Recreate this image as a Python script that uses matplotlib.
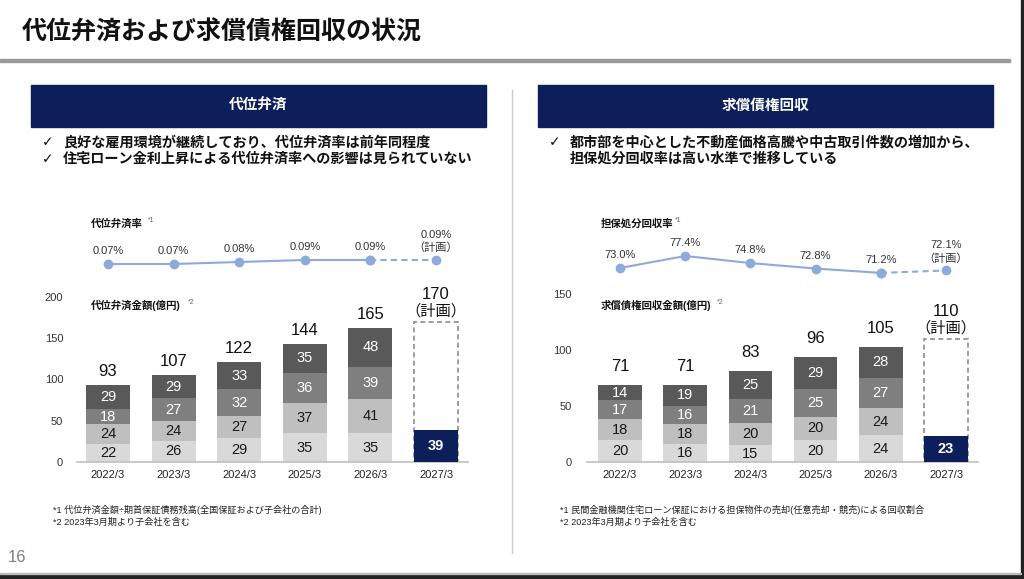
import matplotlib.pyplot as plt
from matplotlib.patches import Rectangle

plt.rcParams['font.family'] = ['Liberation Sans', 'Noto Sans CJK JP', 'DejaVu Sans']

W, H = 1024, 579

years = ['2022/3', '2023/3', '2024/3', '2025/3', '2026/3', '2027/3']

# 代位弁済
dai_seg1 = [22, 26, 29, 35, 35]
dai_seg2 = [24, 24, 27, 37, 41]
dai_seg3 = [18, 27, 32, 36, 39]
dai_seg4 = [29, 29, 33, 35, 48]
dai_total = [93, 107, 122, 144, 165]
dai_plan_total = 170
dai_plan_actual = 39
dai_rate = [0.07, 0.07, 0.08, 0.09, 0.09, 0.09]
dai_rate_lbl = ['0.07%', '0.07%', '0.08%', '0.09%', '0.09%', '0.09%']

# 求償債権回収
kyu_seg1 = [20, 16, 15, 20, 24]
kyu_seg2 = [18, 18, 20, 20, 24]
kyu_seg3 = [17, 16, 21, 25, 27]
kyu_seg4 = [14, 19, 25, 29, 28]
kyu_total = [71, 71, 83, 96, 105]
kyu_plan_total = 110
kyu_plan_actual = 23
kyu_rate = [73.0, 77.4, 74.8, 72.8, 71.2, 72.1]
kyu_rate_lbl = ['73.0%', '77.4%', '74.8%', '72.8%', '71.2%', '72.1%']

seg_colors = ['#d9d9d9', '#bfbfbf', '#7f7f7f', '#595959']
seg_text = ['#1a1a1a', '#1a1a1a', 'white', 'white']
navy = '#0c1f5b'
line_blue = '#8eaadb'


def rect(x0, y0, x1, y1):
    return [x0 / W, 1 - y1 / H, (x1 - x0) / W, (y1 - y0) / H]


def ftext(x, y, s, **kw):
    return fig.text(x / W, 1 - y / H, s, **kw)


fig = plt.figure(figsize=(W / 100, H / 100), dpi=100)
fig.patch.set_facecolor('white')

# frame / decorations
fig.patches.append(Rectangle((0, 1 - 62 / H), 1010 / W, 3 / H, transform=fig.transFigure,
                             color='#9a9a9a', zorder=0))
fig.patches.append(Rectangle((1021 / W, 0), 3 / W, 1, transform=fig.transFigure,
                             color='#222222', zorder=5))
fig.patches.append(Rectangle((0, 0), 1, 5 / H, transform=fig.transFigure,
                             color='#222222', zorder=5))
fig.patches.append(Rectangle((0, 5 / H), 1021 / W, 1 / H, transform=fig.transFigure,
                             color='#bbbbbb', zorder=5))
fig.add_artist(plt.Line2D([512 / W, 512 / W], [1 - 90 / H, 1 - 553 / H],
                          color='#cccccc', lw=1))

ftext(22, 33, '代位弁済および求償債権回収の状況', fontsize=18, fontweight='bold',
      va='center', ha='left', color='#111111')
ftext(8, 557, '16', fontsize=12, color='#7f7f7f', va='center')


def panel(x_axes0, x_axes1, c0, step, ymax, y_top, header_x0, header_x1, header,
          bullets, rate_title, amt_title, star1_x, star2_x,
          segs, totals, plan_total, plan_actual, rates, rate_lbls,
          rate_ylim, total_off, plan_off, notes, note_x, ytick_step, ypad):
    # header box
    fig.patches.append(Rectangle((header_x0 / W, 1 - 127 / H), (header_x1 - header_x0) / W,
                                 42 / H, transform=fig.transFigure, color=navy))
    ftext((header_x0 + header_x1) / 2, 106, header, color='white', fontsize=10.5,
          fontweight='bold', ha='center', va='center')
    for i, (chk, txt) in enumerate(bullets):
        y = 142 + 17 * i
        if chk:
            ftext(header_x0 + 11, y, '✓', fontsize=10, color='#111111', va='center',
                  family=['DejaVu Sans'])
        ftext(header_x0 + 32, y, txt, fontsize=10.2, fontweight='bold', color='#111111',
              va='center')

    ftext(x_axes0 + 14, 224, rate_title, fontsize=7.5, fontweight='bold', va='center',
          color='#111111')
    ftext(star1_x, 221, '*1', fontsize=5, va='center', color='#666666')
    ftext(x_axes0 + 14, 305, amt_title, fontsize=7.5, fontweight='bold', va='center',
          color='#111111')
    ftext(star2_x, 302, '*2', fontsize=5, va='center', color='#666666')

    xl = ((x_axes0 - c0) / step, (x_axes1 - c0) / step)

    # bars
    ax = fig.add_axes(rect(x_axes0, y_top, x_axes1, 462))
    ax.set_xlim(*xl)
    ax.set_ylim(0, ymax)
    x = list(range(5))
    bottom = [0] * 5
    for k, seg in enumerate(segs):
        ax.bar(x, seg, 0.67, bottom=bottom, color=seg_colors[k], zorder=2)
        for i in range(5):
            ax.text(x[i], bottom[i] + seg[i] / 2, str(seg[i]), ha='center', va='center',
                    fontsize=10.5, color=seg_text[k], zorder=3)
        bottom = [b + s for b, s in zip(bottom, seg)]
    for i in range(5):
        ax.annotate(str(totals[i]), (x[i], bottom[i]), xytext=(0, total_off),
                    textcoords='offset pixels', ha='center', va='bottom', fontsize=12,
                    color='#111111')
    ax.bar(5, plan_total, 0.67, fill=False, edgecolor='#8c8c8c', linestyle=(0, (3, 2)),
           lw=1.2, zorder=2)
    ax.bar(5, plan_actual, 0.67, color=navy, zorder=3)
    ax.text(5, plan_actual / 2, str(plan_actual), ha='center', va='center', fontsize=10.5,
            fontweight='bold', color='white', zorder=4)
    ax.annotate('（計画）', (5, plan_total), xytext=(0, plan_off), textcoords='offset pixels',
                ha='center', va='bottom', fontsize=11, color='#111111')
    ax.annotate(str(plan_total), (5, plan_total), xytext=(0, plan_off + 17),
                textcoords='offset pixels', ha='center', va='bottom', fontsize=12,
                color='#111111')
    for s in ['top', 'right', 'left']:
        ax.spines[s].set_visible(False)
    ax.spines['bottom'].set_color('#bfbfbf')
    ax.spines['bottom'].set_linewidth(1.2)
    ax.set_xticks(range(6))
    ax.set_xticklabels(years)
    ax.set_yticks(range(0, ymax + 1, ytick_step))
    ax.tick_params(axis='x', length=0, pad=6, labelsize=8, labelcolor='#222222')
    ax.tick_params(axis='y', length=0, pad=ypad, labelsize=8, labelcolor='#333333')
    ax.patch.set_alpha(0)

    # rate line
    rx = fig.add_axes(rect(x_axes0, 240, x_axes1, 290))
    rx.set_xlim(*xl)
    rx.set_ylim(*rate_ylim)
    rx.axis('off')
    rx.plot(range(5), rates[:5], color=line_blue, lw=1.5, marker='o', ms=6)
    rx.plot([4, 5], rates[4:], color=line_blue, lw=1.5, ls=(0, (3, 2)), marker='o', ms=6)
    for i in range(5):
        rx.annotate(rate_lbls[i], (i, rates[i]), xytext=(0, 13), textcoords='offset pixels',
                    ha='center', va='center', fontsize=8, color='#333333')
    rx.annotate('（計画）', (5, rates[5]), xytext=(0, 12), textcoords='offset pixels',
                ha='center', va='center', fontsize=8, color='#333333')
    rx.annotate(rate_lbls[5], (5, rates[5]), xytext=(0, 25), textcoords='offset pixels',
                ha='center', va='center', fontsize=8, color='#333333')

    for j, n in enumerate(notes):
        ftext(note_x, 510 + 12 * j, n, fontsize=6.6, va='center', color='#222222')


panel(77, 468, 108, 65.6, 200, 297, 31, 486, '代位弁済',
      [(True, '良好な雇用環境が継続しており、代位弁済率は前年同程度'),
       (True, '住宅ローン金利上昇による代位弁済率への影響は見られていない')],
      '代位弁済率', '代位弁済金額(億円)', 148, 188,
      [dai_seg1, dai_seg2, dai_seg3, dai_seg4], dai_total, dai_plan_total, dai_plan_actual,
      dai_rate, dai_rate_lbl, (-0.06, 0.19), 6, 3,
      ['*1 代位弁済金額÷期首保証債務残高(全国保証および子会社の合計)',
       '*2 2023年3月期より子会社を含む'], 53, 50, 10)

panel(587, 978, 620, 65.2, 150, 294, 538, 993, '求償債権回収',
      [(True, '都市部を中心とした不動産価格高騰や中古取引件数の増加から、'),
       (False, '担保処分回収率は高い水準で推移している')],
      '担保処分回収率', '求償債権回収金額(億円)', 675, 717,
      [kyu_seg1, kyu_seg2, kyu_seg3, kyu_seg4], kyu_total, kyu_plan_total, kyu_plan_actual,
      kyu_rate, kyu_rate_lbl, (73.0 - 22 / 2.73, 73.0 + 28 / 2.73), 11, 3,
      ['*1 民間金融機関住宅ローン保証における担保物件の売却(任意売却・競売)による回収割合',
       '*2 2023年3月期より子会社を含む'], 560, 50, 11)

fig.savefig('out.png', dpi=100)
